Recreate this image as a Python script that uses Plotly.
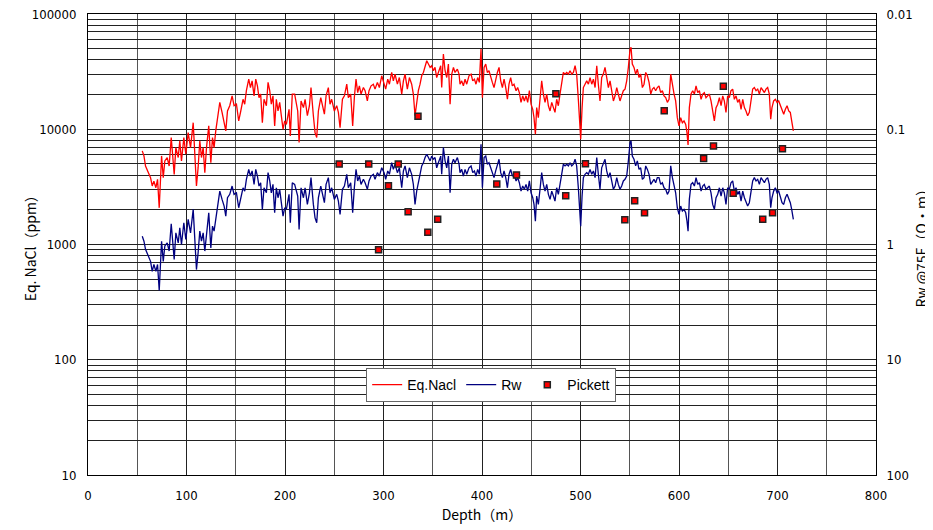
import plotly.graph_objects as go

# depth (m) of the log samples, shared by both curves
depth = [
    55.1, 56.8, 58.4, 61.1, 63.5, 65.2, 66.9, 68.9, 70.6, 72.3,
    73.6, 74.7, 76.4, 78.0, 80.4, 82.4, 84.5, 85.8, 87.5, 89.2,
    91.6, 93.2, 94.9, 97.3, 99.3, 101.7, 104.1, 106.8, 108.4, 110.1,
    111.8, 113.5, 115.2, 116.9, 118.6, 120.3, 122.6, 124.7, 126.4, 128.0,
    129.7, 132.1, 133.8, 136.1, 138.2, 139.9, 141.6, 143.9, 146.3, 148.3,
    150.7, 153.0, 155.1, 157.4, 159.1, 160.8, 163.2, 164.9, 166.6, 168.6,
    170.3, 172.0, 173.6, 175.3, 177.0, 178.7, 181.1, 182.8, 184.5, 186.1,
    187.8, 189.5, 191.2, 192.9, 194.6, 196.3, 198.0, 199.7, 201.4, 204.1,
    205.4, 207.4, 209.8, 212.9, 214.3, 216.3, 218.7, 220.4, 222.7, 224.8,
    226.4, 228.8, 230.5, 232.2, 233.9, 236.3, 238.3, 240.0, 241.7, 244.0,
    245.7, 247.4, 250.1, 252.5, 254.2, 255.9, 258.3, 260.3, 262.7, 264.3,
    266.7, 268.7, 270.4, 272.1, 273.8, 275.5, 277.2, 279.6, 281.3, 283.6,
    285.3, 287.4, 289.7, 291.4, 293.8, 295.8, 298.2, 300.6, 302.2, 304.3,
    306.0, 308.3, 310.0, 311.7, 314.1, 316.1, 318.5, 320.2, 321.9, 324.2,
    326.3, 328.6, 330.3, 332.0, 333.7, 335.4, 337.1, 338.8, 340.5, 342.2,
    343.9, 345.6, 347.3, 348.9, 350.6, 352.3, 354.0, 355.7, 358.1, 359.1,
    360.8, 362.5, 364.2, 365.9, 367.6, 369.3, 371.0, 372.6, 375.0, 376.7,
    377.7, 379.4, 381.1, 382.8, 384.5, 386.8, 388.9, 390.6, 392.3, 393.9,
    395.6, 397.3, 399.0, 400.4, 402.1, 403.8, 405.4, 407.1, 408.8, 410.5,
    412.2, 413.9, 415.6, 417.3, 419.0, 420.7, 422.4, 424.1, 425.8, 427.4,
    429.1, 430.8, 432.5, 434.6, 436.2, 437.9, 439.6, 441.3, 443.0, 444.7,
    446.4, 448.1, 449.8, 451.5, 452.8, 454.2, 455.5, 457.2, 458.9, 460.6,
    462.3, 464.0, 465.7, 467.4, 469.1, 470.8, 472.5, 474.1, 475.8, 477.5,
    479.2, 480.9, 482.6, 484.3, 486.0, 487.7, 489.4, 491.1, 492.8, 494.5,
    496.1, 497.8, 498.9, 500.2, 501.6, 502.9, 504.6, 506.3, 508.0, 509.7,
    511.4, 513.1, 514.8, 516.5, 518.1, 519.8, 521.5, 523.2, 524.9, 526.6,
    528.3, 530.0, 531.7, 533.4, 535.1, 536.8, 538.4, 540.1, 541.8, 543.5,
    545.2, 546.9, 548.6, 550.3, 551.3, 552.6, 554.3, 556.0, 557.7, 559.4,
    561.1, 562.8, 564.5, 566.2, 567.9, 569.6, 571.3, 573.0, 574.6, 576.3,
    578.0, 579.7, 581.4, 583.1, 584.8, 586.5, 588.2, 589.9, 591.6, 593.3,
    595.0, 596.6, 598.3, 600.0, 601.7, 603.4, 605.1, 606.8, 608.1, 609.2,
    610.5, 612.2, 613.9, 615.6, 617.3, 619.0, 620.7, 622.4, 624.1, 625.7,
    627.4, 629.1, 630.8, 632.5, 634.2, 635.9, 637.6, 639.3, 641.0, 642.7,
    644.4, 646.0, 647.7, 649.4, 651.1, 652.8, 654.5, 656.2, 657.9, 659.6,
    661.3, 663.0, 664.7, 666.4, 668.0, 669.7, 671.4, 673.1, 674.8, 676.5,
    678.2, 679.9, 681.6, 683.3, 685.0, 686.7, 688.3, 690.0, 691.7, 693.1,
    694.4, 696.1, 697.8, 699.5, 701.2, 702.9, 704.6, 706.3, 708.0, 709.7,
    711.4, 713.0, 714.4, 716.1,
]

# equivalent NaCl (ppm)
nacl = [
    6490, 5870, 4800, 4200, 3800, 3220, 3550, 3110, 3680, 2080,
    4340, 5870, 3800, 5310, 5680, 4800, 8470, 6070, 4060, 6930,
    5680, 7920, 5310, 8470, 6070, 9350, 6930, 11400, 6490, 3220,
    4640, 7920, 5680, 6930, 4200, 6930, 10700, 5130, 8470, 6930,
    9680, 13500, 17100, 14000, 11800, 9680, 14400, 16000, 19500, 16000,
    16500, 11800, 14400, 18200, 16500, 21600, 27200, 23000, 26300, 19500,
    27200, 23800, 18800, 20200, 11400, 18200, 16000, 25500, 21600, 16500,
    19500, 10700, 18200, 14400, 17100, 12200, 10000, 11800, 11000, 14900,
    8750, 20200, 20200, 14400, 7660, 17600, 15400, 18200, 13100, 16000,
    23000, 13100, 9350, 8470, 14400, 18800, 16000, 13500, 19500, 23000,
    16500, 18200, 14400, 16000, 14000, 10300, 18200, 19500, 24600, 18800,
    20200, 10700, 18800, 27200, 20800, 23800, 20200, 23000, 21600, 17600,
    21600, 23800, 24600, 22300, 25500, 23000, 29100, 24600, 22300, 27200,
    24600, 31100, 26300, 30100, 24600, 28100, 20200, 26300, 30100, 22300,
    28100, 24600, 20200, 13100, 17100, 21600, 24600, 29100, 31100, 34400,
    39300, 36800, 34400, 35600, 32200, 34400, 28100, 31100, 35600, 23000,
    44900, 32200, 28100, 36800, 16500, 30100, 34400, 31100, 33200, 30100,
    24600, 26300, 23800, 27200, 24600, 29100, 30100, 26300, 27200, 24600,
    28100, 25500, 49600, 18800, 34400, 36800, 31100, 32200, 28100, 25500,
    23000, 27200, 31100, 34400, 26300, 23000, 27200, 23000, 18200, 24600,
    28100, 23800, 24600, 21600, 23000, 20800, 17100, 19500, 17600, 19500,
    17100, 21600, 16500, 14900, 12600, 9050, 15400, 12600, 18200, 26300,
    20200, 17100, 20200, 16000, 14400, 17100, 15400, 14000, 18200, 16000,
    20200, 25500, 31100, 30100, 31100, 30100, 32200, 30100, 31100, 35600,
    30100, 18200, 11800, 8190, 15400, 23000, 24600, 26300, 24600, 28100,
    24600, 27200, 23000, 35600, 24600, 17600, 28100, 30100, 34400, 27200,
    23000, 26300, 20800, 17600, 19500, 23000, 20200, 17600, 19500, 21600,
    22300, 26300, 34400, 49600, 51300, 36800, 34400, 30100, 33200, 28100,
    30100, 23000, 24600, 31100, 29100, 25500, 20200, 22300, 23000, 21600,
    23000, 23800, 20800, 21600, 19500, 18800, 17100, 18200, 30100, 23800,
    20200, 17600, 12600, 10700, 12600, 11400, 11800, 11000, 9350, 7310,
    15400, 20200, 21600, 20200, 23800, 20800, 21600, 18200, 20200, 20800,
    18800, 19500, 20200, 17600, 14000, 11800, 15400, 16500, 18800, 16000,
    19500, 17600, 14000, 19500, 18800, 21600, 22300, 18200, 19500, 17100,
    18200, 14900, 18200, 15400, 14400, 13100, 14000, 18200, 22300, 23000,
    21600, 22300, 20200, 23000, 21600, 20800, 22300, 23000, 20200, 12200,
    15400, 17600, 18200, 17100, 17600, 16000, 14400, 13500, 14900, 16000,
    14400, 14000, 11800, 9680,
]

# Rw at 75F (ohm-m)
rw = [
    0.847, 0.936, 1.10, 1.26, 1.40, 1.71, 1.49, 1.71, 1.49, 2.51,
    1.22, 0.936, 1.40, 1.03, 0.968, 1.14, 0.661, 0.905, 1.35, 0.792,
    0.968, 0.717, 1.00, 0.648, 0.905, 0.606, 0.792, 0.496, 0.876, 1.65,
    1.18, 0.766, 0.936, 0.792, 1.14, 0.792, 0.531, 1.07, 0.693, 0.766,
    0.587, 0.420, 0.344, 0.406, 0.464, 0.567, 0.393, 0.367, 0.311, 0.367,
    0.356, 0.480, 0.393, 0.322, 0.344, 0.272, 0.223, 0.255, 0.230, 0.301,
    0.223, 0.255, 0.311, 0.291, 0.496, 0.322, 0.356, 0.238, 0.281, 0.356,
    0.301, 0.531, 0.322, 0.393, 0.332, 0.464, 0.567, 0.480, 0.496, 0.367,
    0.648, 0.291, 0.301, 0.380, 0.741, 0.322, 0.393, 0.322, 0.449, 0.356,
    0.263, 0.449, 0.587, 0.648, 0.393, 0.311, 0.367, 0.434, 0.301, 0.263,
    0.356, 0.322, 0.406, 0.367, 0.420, 0.548, 0.332, 0.311, 0.246, 0.322,
    0.291, 0.531, 0.322, 0.223, 0.281, 0.255, 0.301, 0.272, 0.291, 0.332,
    0.281, 0.255, 0.246, 0.272, 0.238, 0.255, 0.216, 0.238, 0.272, 0.230,
    0.246, 0.195, 0.223, 0.201, 0.238, 0.216, 0.322, 0.230, 0.208, 0.263,
    0.216, 0.246, 0.301, 0.449, 0.344, 0.281, 0.246, 0.208, 0.195, 0.176,
    0.165, 0.176, 0.188, 0.171, 0.182, 0.176, 0.216, 0.195, 0.171, 0.246,
    0.144, 0.188, 0.216, 0.171, 0.356, 0.201, 0.182, 0.195, 0.176, 0.201,
    0.238, 0.223, 0.255, 0.223, 0.246, 0.216, 0.208, 0.238, 0.230, 0.255,
    0.223, 0.246, 0.135, 0.322, 0.176, 0.171, 0.201, 0.195, 0.216, 0.246,
    0.263, 0.230, 0.201, 0.182, 0.238, 0.263, 0.230, 0.263, 0.322, 0.246,
    0.223, 0.255, 0.246, 0.281, 0.263, 0.291, 0.344, 0.311, 0.332, 0.301,
    0.344, 0.281, 0.356, 0.393, 0.449, 0.627, 0.380, 0.449, 0.332, 0.238,
    0.301, 0.344, 0.301, 0.367, 0.406, 0.344, 0.380, 0.420, 0.322, 0.367,
    0.301, 0.238, 0.201, 0.208, 0.201, 0.208, 0.195, 0.208, 0.201, 0.182,
    0.208, 0.322, 0.480, 0.693, 0.380, 0.263, 0.246, 0.238, 0.246, 0.223,
    0.246, 0.230, 0.263, 0.176, 0.246, 0.332, 0.216, 0.201, 0.182, 0.230,
    0.263, 0.238, 0.281, 0.332, 0.311, 0.263, 0.301, 0.332, 0.311, 0.281,
    0.272, 0.255, 0.188, 0.131, 0.126, 0.171, 0.182, 0.208, 0.188, 0.223,
    0.216, 0.272, 0.263, 0.208, 0.223, 0.246, 0.301, 0.281, 0.272, 0.291,
    0.263, 0.263, 0.301, 0.291, 0.322, 0.332, 0.367, 0.344, 0.208, 0.263,
    0.301, 0.356, 0.480, 0.548, 0.464, 0.513, 0.496, 0.531, 0.627, 0.766,
    0.406, 0.301, 0.291, 0.311, 0.263, 0.301, 0.291, 0.344, 0.311, 0.301,
    0.332, 0.322, 0.311, 0.356, 0.449, 0.496, 0.393, 0.367, 0.322, 0.380,
    0.322, 0.356, 0.449, 0.322, 0.332, 0.291, 0.281, 0.344, 0.322, 0.367,
    0.344, 0.420, 0.344, 0.393, 0.420, 0.464, 0.434, 0.344, 0.281, 0.263,
    0.281, 0.272, 0.301, 0.263, 0.281, 0.291, 0.272, 0.263, 0.301, 0.480,
    0.393, 0.344, 0.322, 0.356, 0.344, 0.380, 0.434, 0.449, 0.393, 0.367,
    0.406, 0.434, 0.496, 0.606,
]

# Pickett plot Rw values
pickett_depth = [255, 285, 295, 305, 315, 325, 335, 345, 355, 415, 435, 475, 485,
                 505, 545, 555, 565, 585, 625, 635, 645, 655, 685, 695, 705]
pickett_rw = [0.200, 0.200, 1.11, 0.309, 0.200, 0.521, 0.077, 0.782, 0.603, 0.299,
              0.249, 0.0493, 0.378, 0.199, 0.611, 0.418, 0.531, 0.069, 0.179, 0.140,
              0.0423, 0.360, 0.603, 0.531, 0.148]

nacl_ticks = [10, 100, 1000, 10000, 100000]
rw_ticks = [0.01, 0.1, 1, 10, 100]

assert len(depth) == len(nacl) == len(rw)

tick_font = dict(family='Liberation Sans Narrow, DejaVu Sans Condensed, sans-serif', size=13, color='black')
title_font = dict(family='Noto Sans CJK JP, sans-serif', size=14, color='black')
grid = '#222222'

fig = go.Figure()

fig.add_trace(go.Scatter(x=depth, y=nacl, name='Eq.Nacl', mode='lines',
                         line=dict(color='#ff0000', width=1.3)))
fig.add_trace(go.Scatter(x=depth, y=rw, name='Rw', mode='lines', yaxis='y2',
                         line=dict(color='#000080', width=1.3)))
fig.add_trace(go.Scatter(x=pickett_depth, y=pickett_rw, name='Pickett', mode='markers', yaxis='y2',
                         marker=dict(symbol='square', size=6, color='#ff0000',
                                     line=dict(color='#222222', width=1.5))))

# y axis titles as annotations so they sit where the original has them
fig.add_annotation(text='Eq. NaCl（ppm）', xref='paper', yref='paper', x=-0.074, y=0.5,
                   textangle=-90, showarrow=False, font=title_font,
                   xanchor='center', yanchor='middle')
fig.add_annotation(text='Rw @75F（Ω・m）', xref='paper', yref='paper', x=1.057, y=0.5,
                   textangle=-90, showarrow=False, font=title_font,
                   xanchor='center', yanchor='middle')

# the page body adds an 8 px offset, so the figure is a little smaller than the window
fig.update_layout(
    width=925,
    height=522,
    margin=dict(l=80, r=57, t=6, b=55),
    paper_bgcolor='white',
    plot_bgcolor='white',
    showlegend=True,
    legend=dict(
        orientation='h',
        x=0.353, y=0.232,
        xanchor='left', yanchor='top',
        bgcolor='white',
        bordercolor='#666666',
        borderwidth=1,
        font=dict(family='Liberation Sans, Arial, sans-serif', size=14, color='black'),
        itemwidth=30,
        tracegroupgap=0,
    ),
    xaxis=dict(
        range=[0, 800],
        dtick=100,
        tick0=0,
        showgrid=True,
        gridcolor=grid,
        gridwidth=1,
        minor=dict(dtick=50, showgrid=True, gridcolor='#555555', gridwidth=1),
        showline=True,
        linecolor='black',
        linewidth=1,
        mirror=True,
        zeroline=False,
        ticks='',
        ticklabelstandoff=8,
        ticklabeloverflow='allow',
        tickfont=tick_font,
        automargin=False,
        title=dict(text='Depth（m）', font=title_font, standoff=8),
    ),
    yaxis=dict(
        type='log',
        range=[1, 5],
        tickvals=nacl_ticks,
        ticktext=[str(v) for v in nacl_ticks],
        showgrid=True,
        gridcolor=grid,
        gridwidth=1,
        minor=dict(dtick='D1', showgrid=True, gridcolor=grid, gridwidth=1),
        showline=True,
        linecolor='black',
        linewidth=1,
        zeroline=False,
        ticks='',
        ticklabelstandoff=8,
        ticklabeloverflow='allow',
        tickfont=tick_font,
        automargin=False,
    ),
    yaxis2=dict(
        type='log',
        range=[2, -2],
        overlaying='y',
        side='right',
        tickvals=rw_ticks,
        ticktext=['0.01', '0.1', '1', '10', '100'],
        showgrid=False,
        showline=True,
        linecolor='black',
        linewidth=1,
        zeroline=False,
        ticks='',
        ticklabelstandoff=7,
        ticklabeloverflow='allow',
        tickfont=tick_font,
        automargin=False,
    ),
)

fig.write_html("out.html")
